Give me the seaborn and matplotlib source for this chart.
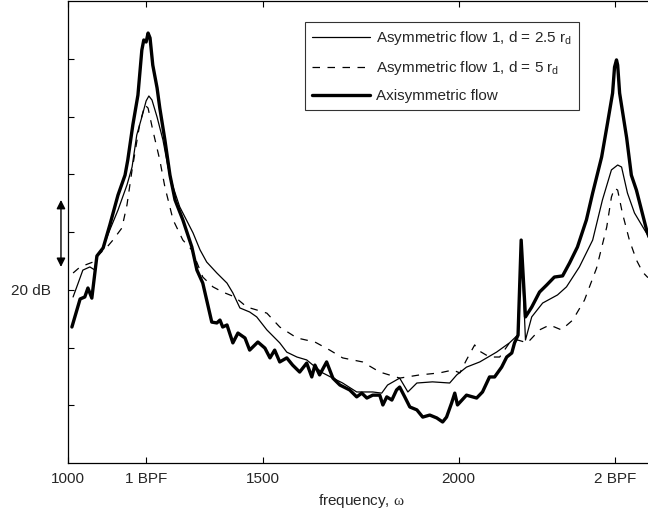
import numpy as np
import pandas as pd
import matplotlib
matplotlib.use('Agg')
import matplotlib.pyplot as plt
import seaborn as sns

##################################################################
sns.set_style('ticks')
matplotlib.rcParams.update({'font.family': ['Liberation Sans', 'DejaVu Sans'],
                            'mathtext.fontset': 'custom',
                            'mathtext.rm': 'Liberation Sans',
                            'mathtext.it': 'Liberation Sans:italic',
                            'mathtext.sf': 'Liberation Serif'})
##################################################################
# axisymmetric flow (thick)
freq_axi = [1010, 1031, 1043, 1051, 1061, 1069, 1074, 1090, 1107, 1128,
            1146, 1153, 1166, 1179, 1189, 1194, 1200, 1205, 1210, 1217,
            1228, 1235, 1248, 1261, 1274, 1294, 1317, 1330, 1345, 1368,
            1381, 1389, 1396, 1407, 1422, 1435, 1453, 1465, 1486, 1504,
            1517, 1529, 1542, 1560, 1575, 1593, 1611, 1624, 1632, 1644,
            1662, 1678, 1696, 1721, 1739, 1752, 1765, 1780, 1798, 1806,
            1816, 1829, 1841, 1849, 1862, 1875, 1893, 1908, 1926, 1944,
            1959, 1969, 1982, 1990, 1997, 2020, 2046, 2061, 2079, 2092,
            2110, 2123, 2136, 2143, 2152, 2160, 2171, 2187,
            2207, 2225, 2245, 2266, 2284, 2304, 2327, 2343, 2366, 2381,
            2394, 2399, 2404, 2407, 2412, 2430, 2442, 2455, 2481, 2499]
spl_axi = [47.1, 56.8, 57.5, 60.6, 57.1, 66.1, 71.7, 74.5, 82.4, 92.8,
           99.7, 104.9, 117.1, 127.4, 143.0, 146.5, 145.8, 148.9, 147.2, 137.8,
           129.9, 122.9, 111.9, 99.7, 91.1, 84.2, 74.8, 66.8, 62.3, 48.8,
           48.5, 49.5, 47.1, 47.8, 41.6, 45.0, 43.3, 39.1, 41.9, 39.8,
           36.4, 39.1, 35.0, 36.4, 33.9, 31.5, 34.6, 29.8, 33.9, 30.5,
           35.0, 29.4, 27.0, 25.3, 22.9, 24.2, 22.5, 23.5, 23.5, 20.1,
           22.9, 21.8, 25.3, 26.3, 22.9, 19.4, 18.4, 15.9, 16.6, 15.6,
           14.2, 15.9, 20.8, 24.2, 20.1, 23.5, 22.5, 24.6, 29.8, 29.8,
           33.2, 36.7, 38.1, 41.6, 44.3, 77.2, 50.6, 54.0,
           59.2, 61.6, 64.4, 64.8, 69.3, 74.8, 84.2, 93.5, 106.0, 117.7,
           128.1, 137.1, 139.6, 137.8, 128.1, 112.6, 99.7, 94.5, 80.7, 73.8]

# asymmetric flow 1, d = 2.5 r_d (thin)
freq_d25 = [1013, 1026, 1038, 1056, 1069, 1074, 1090, 1107, 1128, 1151,
            1164, 1176, 1189, 1200, 1207, 1215, 1228, 1243, 1256, 1269,
            1286, 1320, 1338, 1355, 1381, 1407, 1422, 1440, 1465, 1483,
            1509, 1542, 1560, 1586, 1611, 1627, 1652, 1678, 1703, 1739,
            1780, 1803, 1818, 1849, 1870, 1893, 1933, 1977, 1995, 2020,
            2054, 2097, 2130, 2151, 2160, 2171, 2187, 2215, 2253, 2276,
            2309, 2343, 2368, 2391, 2407, 2417, 2432, 2450, 2476, 2499]
spl_d25 = [57.5, 62.3, 66.8, 67.9, 66.8, 71.3, 74.8, 80.7, 87.6, 96.3,
           102.5, 113.6, 119.8, 125.4, 127.1, 125.7, 119.8, 111.9, 102.5, 95.6,
           88.7, 79.7, 73.8, 69.6, 65.8, 62.3, 58.9, 53.7, 52.3, 50.6,
           46.1, 41.6, 38.4, 36.7, 35.7, 33.9, 31.2, 29.4, 27.7, 24.6,
           24.6, 24.2, 27.0, 29.4, 24.6, 27.7, 28.1, 27.7, 30.5, 33.2,
           35.0, 38.4, 41.6, 44.3, 77.2, 42.6, 50.6, 55.4, 58.2, 61.0,
           67.9, 77.2, 91.1, 101.5, 103.2, 102.5, 93.5, 86.6, 80.7, 75.5]

# asymmetric flow 1, d = 5 r_d (dashed)
freq_d5 = [1013, 1031, 1064, 1077, 1100, 1115, 1138, 1151, 1164, 1184,
           1197, 1205, 1217, 1235, 1248, 1269, 1294, 1317, 1345, 1371,
           1396, 1427, 1458, 1483, 1509, 1542, 1586, 1632, 1670, 1703,
           1754, 1798, 1849, 1900, 1951, 1985, 2003, 2020, 2041, 2049,
           2079, 2105, 2130, 2151, 2176, 2207, 2233, 2263, 2292, 2322,
           2353, 2379, 2391, 2399, 2407, 2419, 2437, 2455, 2471, 2483,
           2499]
spl_d5 = [65.8, 67.9, 69.6, 72.0, 74.8, 77.2, 81.4, 89.4, 101.5, 117.7,
          124.0, 122.9, 115.3, 104.9, 95.6, 84.2, 77.2, 73.8, 64.4, 61.0,
          59.2, 57.5, 54.0, 53.0, 51.9, 47.1, 43.3, 41.9, 39.1, 36.4,
          35.0, 31.5, 29.4, 30.5, 31.2, 32.2, 31.2, 35.7, 40.9, 39.1,
          36.7, 36.7, 41.6, 42.6, 41.6, 46.1, 47.8, 46.1, 49.5, 56.4,
          67.5, 81.7, 92.1, 95.2, 94.5, 86.6, 77.2, 70.3, 66.1, 64.4,
          63.4]

labels = ['Asymmetric flow 1, d = 2.5 r$_{\\rm d}$',
          'Asymmetric flow 1, d = 5 r$_{\\rm d}$',
          'Axisymmetric flow']

xticks = [1000, 1200, 1500, 2000, 2400]
xticklabels = ['1000', '1 BPF', '1500', '2000', '2 BPF']
yticks = [20, 40, 60, 80, 100, 120, 140]
##################################################################
plt.close('all')
fig = plt.figure(figsize=[6.48, 5.12], dpi=100)
ax = fig.add_axes([68/648, 49/512, 586/648, 462/512])

fz = 11
sns.lineplot(x=freq_d25, y=spl_d25, ax=ax, color='k', lw=0.9, label=labels[0])
sns.lineplot(x=freq_d5, y=spl_d5, ax=ax, color='k', lw=0.9, label=labels[1])
ax.lines[-1].set_dashes([6, 6])
sns.lineplot(x=freq_axi, y=spl_axi, ax=ax, color='k', lw=2.4, label=labels[2])

ax.set_xlim(1000, 2500)
ax.set_ylim(0, 160)
ax.set_xticks(xticks)
ax.set_xticklabels(xticklabels, fontsize=fz)
ax.set_yticks(yticks)
ax.set_yticklabels(['20 dB' if t == 60 else '' for t in yticks], fontsize=fz)
ax.tick_params(direction='in', length=4, width=0.8, top=True, right=True, color='k')
ax.tick_params(axis='y', pad=12)
ax.tick_params(axis='x', pad=6.5)
ax.set_xlabel('frequency, $\\mathsf{\\omega}$', fontsize=fz, labelpad=4)
for s in ax.spines.values():
    s.set_color('k')
    s.set_linewidth(0.9)

# 20 dB scale arrow
ax.annotate('', xy=(-0.012, 91.1), xytext=(-0.012, 67.9),
            xycoords=('axes fraction', 'data'),
            arrowprops=dict(arrowstyle='<|-|>', mutation_scale=13, lw=1.0,
                            color='k', shrinkA=0, shrinkB=0),
            annotation_clip=False)

leg = ax.legend(loc='upper right', bbox_to_anchor=(0.872, 0.9545), borderaxespad=0,
                fontsize=fz, frameon=True, fancybox=False, handlelength=3.8,
                labelspacing=0.8, borderpad=0.45, handletextpad=0.4)
leg.get_frame().set_edgecolor('k')
leg.get_frame().set_linewidth(0.8)

plt.savefig('out.png', dpi=100)
